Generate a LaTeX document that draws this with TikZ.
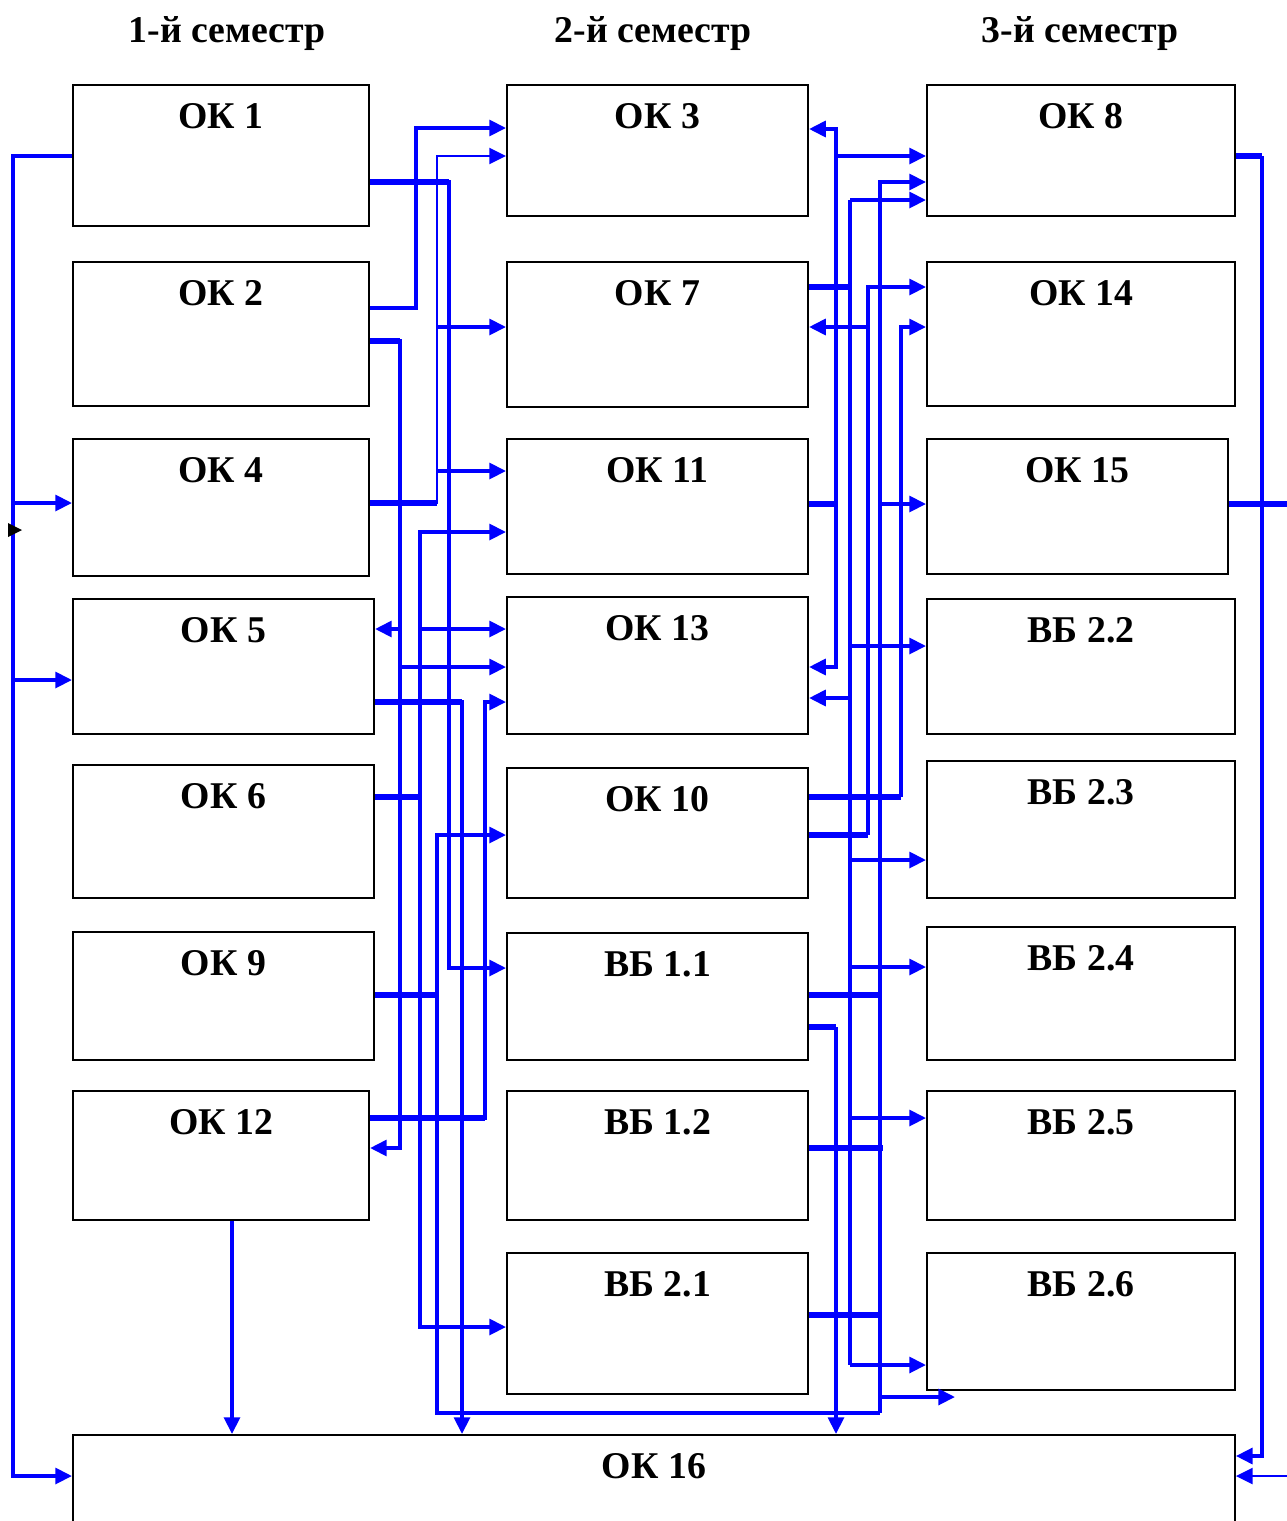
\documentclass[tikz,border=0pt]{standalone}
\usepackage{fontspec}
\setmainfont{Liberation Serif}
\usetikzlibrary{arrows.meta}
\tikzset{
  blk/.style={draw,line width=1.2pt,inner sep=0pt,anchor=north west},
  ttl/.style={anchor=north,inner sep=0pt,yshift=-11pt},
  ln/.style={draw=blue,line width=2.1pt},
  tn/.style={draw=blue,line width=1.5pt},
  tk/.style={draw=blue,line width=3.2pt},
  nyl/.style={-{Triangle[length=9.5pt,width=9pt]}},
}
\newcommand{\blok}[5]{\node[blk,minimum width=#3cm,minimum height=#4cm,label={[ttl]north:#5}] (#1) at (#2) {};}

\begin{document}
\begin{tikzpicture}[x=0.02cm,y=-0.02cm,font=\bfseries\fontsize{21.5}{24}\selectfont]
  \useasboundingbox (0,0) rectangle (1287,1521);
  \node[anchor=base] (s1) at (227,42) {1-й семестр};
  \node[anchor=base] (s2) at (653,42) {2-й семестр};
  \node[anchor=base] (s3) at (1080,42) {3-й семестр};
  \blok{ok1}{72,84}{5.92}{2.82}{ОК 1}
  \blok{ok2}{72,261}{5.92}{2.88}{ОК 2}
  \blok{ok4}{72,438}{5.92}{2.74}{ОК 4}
  \blok{ok5}{72,598}{6.02}{2.70}{ОК 5}
  \blok{ok6}{72,764}{6.02}{2.66}{ОК 6}
  \blok{ok9}{72,931}{6.02}{2.56}{ОК 9}
  \blok{ok12}{72,1090}{5.92}{2.58}{ОК 12}
  \blok{ok3}{506,84}{6.02}{2.62}{ОК 3}
  \blok{ok7}{506,261}{6.02}{2.90}{ОК 7}
  \blok{ok11}{506,438}{6.02}{2.70}{ОК 11}
  \blok{ok13}{506,596}{6.02}{2.74}{ОК 13}
  \blok{ok10}{506,767}{6.02}{2.60}{ОК 10}
  \blok{vb11}{506,932}{6.02}{2.54}{ВБ 1.1}
  \blok{vb12}{506,1090}{6.02}{2.58}{ВБ 1.2}
  \blok{vb21}{506,1252}{6.02}{2.82}{ВБ 2.1}
  \blok{ok8}{926,84}{6.16}{2.62}{ОК 8}
  \blok{ok14}{926,261}{6.16}{2.88}{ОК 14}
  \blok{ok15}{926,438}{6.02}{2.70}{ОК 15}
  \blok{vb22}{926,598}{6.16}{2.70}{ВБ 2.2}
  \blok{vb23}{926,760}{6.16}{2.74}{ВБ 2.3}
  \blok{vb24}{926,926}{6.16}{2.66}{ВБ 2.4}
  \blok{vb25}{926,1090}{6.16}{2.58}{ВБ 2.5}
  \blok{vb26}{926,1252}{6.16}{2.74}{ВБ 2.6}
  \blok{ok16}{72,1434}{23.24}{3.4}{ОК 16}

  \draw[ln,nyl] (ok1.west |- 0,156) -- (13,156) -- (13,1476) -- (ok16.west |- 0,1476);
  \draw[ln,nyl] (13,503) -- (ok4.west |- 0,503);
  \draw[ln,nyl] (13,680) -- (ok5.west |- 0,680);
  \fill (8,523) -- (22,530) -- (8,537) -- cycle;
  \draw[ln,nyl] (232,0 |- ok12.south) -- (232,0 |- ok16.north);

  \draw[ln,nyl] (ok1.east |- 0,182) -- (449,182) -- (449,968) -- (vb11.west |- 0,968);
  \draw[tk] (ok1.east |- 0,182) -- (449,182);
  \draw[ln,nyl] (ok2.east |- 0,308) -- (416,308) -- (416,128) -- (ok3.west |- 0,128);
  \draw[ln,nyl] (ok2.east |- 0,341) -- (400,341) -- (400,1148) -- (ok12.east |- 0,1148);
  \draw[tk] (ok2.east |- 0,341) -- (400,341);
  \draw[ln,nyl] (400,629) -- (ok5.east |- 0,629);
  \draw[ln,nyl] (400,667) -- (ok13.west |- 0,667);
  \draw[tn,nyl] (ok4.east |- 0,503) -- (437,503) -- (437,156) -- (ok3.west |- 0,156);
  \draw[tk] (ok4.east |- 0,503) -- (437,503);
  \draw[ln,nyl] (437,327) -- (ok7.west |- 0,327);
  \draw[ln,nyl] (437,471) -- (ok11.west |- 0,471);
  \draw[ln,nyl] (ok5.east |- 0,702) -- (462,702) -- (462,0 |- ok16.north);
  \draw[tk] (ok5.east |- 0,702) -- (462,702);
  \draw[tk] (ok6.east |- 0,797) -- (420,797);
  \draw[ln,nyl] (420,797) -- (420,532) -- (ok11.west |- 0,532);
  \draw[ln,nyl] (420,629) -- (ok13.west |- 0,629);
  \draw[ln,nyl] (420,797) -- (420,1327) -- (vb21.west |- 0,1327);
  \draw[tk] (ok9.east |- 0,995) -- (437,995);
  \draw[ln,nyl] (437,995) -- (437,835) -- (ok10.west |- 0,835);
  \draw[ln] (437,995) -- (437,1413) -- (880,1413);
  \draw[ln,nyl] (ok12.east |- 0,1118) -- (485,1118) -- (485,702) -- (ok13.west |- 0,702);
  \draw[tk] (ok12.east |- 0,1118) -- (485,1118);

  \draw[tk] (ok11.east |- 0,504) -- (836,504);
  \draw[ln,nyl] (836,504) -- (836,129) -- (ok3.east |- 0,129);
  \draw[ln,nyl] (836,156) -- (ok8.west |- 0,156);
  \draw[ln,nyl] (836,504) -- (836,667) -- (ok13.east |- 0,667);
  \draw[tk] (ok7.east |- 0,287) -- (850,287);
  \draw[ln] (850,200) -- (850,1365);
  \foreach \y/\b in {200/ok8,646/vb22,860/vb23,967/vb24,1118/vb25,1365/vb26}
    \draw[ln,nyl] (850,\y) -- (\b.west |- 0,\y);
  \draw[ln,nyl] (850,698) -- (ok13.east |- 0,698);
  \draw[tk] (ok10.east |- 0,835) -- (868,835);
  \draw[ln,nyl] (868,835) -- (868,287) -- (ok14.west |- 0,287);
  \draw[ln,nyl] (868,327) -- (ok7.east |- 0,327);
  \draw[tk] (ok10.east |- 0,797) -- (901,797);
  \draw[ln,nyl] (901,797) -- (901,327) -- (ok14.west |- 0,327);
  \draw[ln,nyl] (880,1413) -- (880,182) -- (ok8.west |- 0,182);
  \draw[ln,nyl] (880,504) -- (ok15.west |- 0,504);
  \draw[ln,nyl] (880,1397) -- (955,1397);
  \draw[tk] (vb11.east |- 0,995) -- (880,995);
  \draw[tk] (vb12.east |- 0,1148) -- (883,1148);
  \draw[tk] (vb21.east |- 0,1315) -- (880,1315);
  \draw[tk] (vb11.east |- 0,1027) -- (836,1027);
  \draw[ln,nyl] (836,1027) -- (836,0 |- ok16.north);

  \draw[tk] (ok8.east |- 0,156) -- (1262,156);
  \draw[ln,nyl] (1262,156) -- (1262,1456) -- (ok16.east |- 0,1456);
  \draw[tk] (ok15.east |- 0,504) -- (1295,504);
  \draw[tn,nyl] (1295,1476) -- (ok16.east |- 0,1476);
\end{tikzpicture}
\end{document}
